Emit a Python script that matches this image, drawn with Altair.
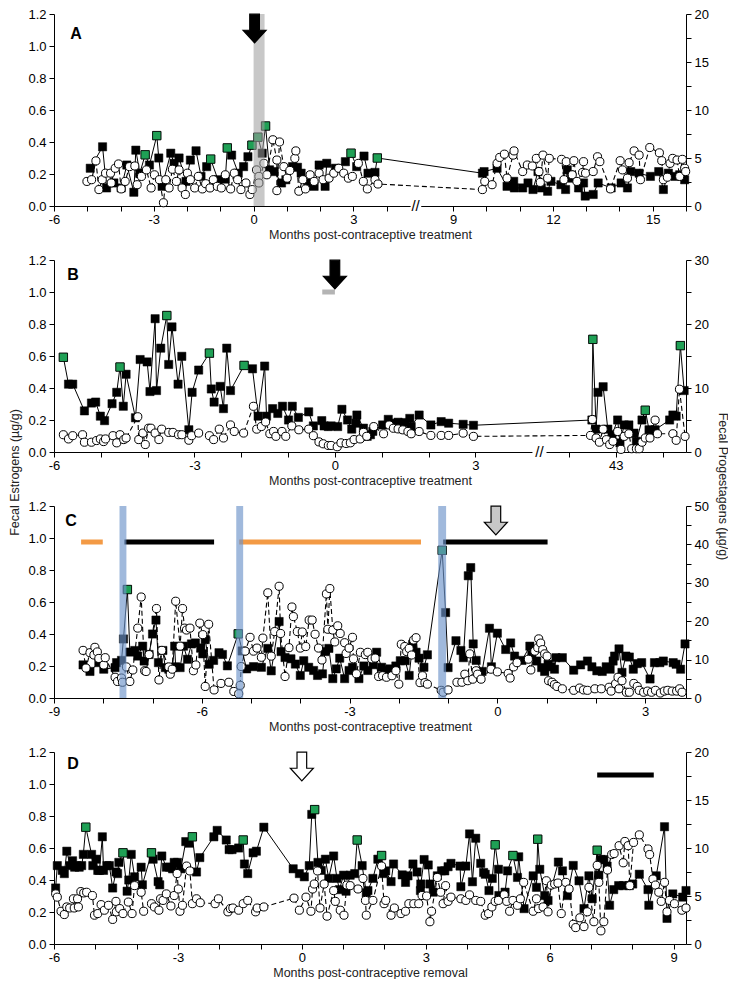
import altair as alt
import pandas as pd

FONT = "Liberation Sans"
W, H = 632, 192
GREEN = "#1fa055"
ARROW = "M -0.42 -1.25 L 0.42 -1.25 L 0.42 0.15 L 1 0.15 L 0 1.25 L -1 0.15 L -0.42 0.15 Z"

# ---------------- Panel A (x in months; squares = estrogens, circles = progestagens) ----------------
A_SQ = [(-4.91,0.236),(-4.54,0.37),(-4.42,0.113),(-4.2,0.144),(-3.98,0.113),(-3.81,0.256),(-3.6,0.086),
        (-3.54,0.349),(-3.42,0.205),(-3.26,0.32),(-3.13,0.256),(-2.91,0.44),(-2.85,0.30),(-2.75,0.123),
        (-2.49,0.33),(-2.39,0.267),(-2.24,0.30),(-2.03,0.154),(-1.9,0.287),(-1.73,0.345),(-1.58,0.185),
        (-1.41,0.246),(-1.29,0.293),(-1.07,0.164),(-0.85,0.168),(-0.79,0.363),(-0.66,0.318),(-0.46,0.205),
        (-0.3,0.246),(-0.17,0.308),(-0.05,0.38),(0.13,0.43),(0.26,0.33),(0.36,0.50),(0.48,0.226),(0.62,0.215),
        (0.84,0.144),(0.97,0.164),(1.17,0.246),(1.32,0.242),(1.43,0.205),(1.63,0.144),(1.82,0.123),(1.97,0.256),
        (2.15,0.123),(2.2,0.267),(2.46,0.236),(2.76,0.277),(2.93,0.33),(3.1,0.246),(3.32,0.312),(3.44,0.205),
        (3.65,0.21),(3.72,0.30),
        (9.88,0.205),(9.93,0.215),(10.32,0.236),(10.62,0.123),(10.82,0.154),(10.84,0.113),(11.09,0.113),
        (11.25,0.144),(11.4,0.103),(11.55,0.215),(11.65,0.113),(11.84,0.092),(11.94,0.154),(12.24,0.133),
        (12.38,0.103),(12.43,0.226),(12.56,0.174),(12.77,0.113),(12.92,0.144),(12.97,0.062),(13.21,0.072),
        (13.36,0.144),(13.75,0.113),(14.05,0.144),(14.24,0.113),(14.34,0.215),(14.59,0.205),(14.93,0.185),
        (15.18,0.215),(15.32,0.103),(15.47,0.205),(15.67,0.185),(15.81,0.195),(15.96,0.164)]
A_GREEN = [(-3.26,0.32),(-2.91,0.44),(-1.29,0.293),(-0.79,0.363),(-0.05,0.38),(0.13,0.43),(0.36,0.50),
           (2.93,0.33),(3.72,0.30)]
A_CI = [(-5.01,2.56),(-4.87,2.74),(-4.74,4.7),(-4.65,1.71),(-4.55,2.74),(-4.45,3.42),(-4.3,3.42),(-4.28,2.4),
        (-4.16,3.93),(-4.06,4.38),(-3.98,1.78),(-3.86,2.56),(-3.73,4.1),(-3.57,4.17),(-3.5,2.22),(-3.37,3.08),
        (-3.22,3.76),(-3.08,1.88),(-2.98,3.25),(-2.83,2.74),(-2.71,0.34),(-2.64,2.74),(-2.54,1.88),(-2.44,3.83),
        (-2.32,2.56),(-2.24,3.76),(-2.15,1.88),(-2.05,1.2),(-1.99,3.42),(-1.9,2.74),(-1.77,1.88),(-1.66,3.08),
        (-1.54,1.78),(-1.44,2.32),(-1.31,1.88),(-1.21,2.74),(-1.09,2.05),(-0.97,1.88),(-0.85,3.25),(-0.69,1.78),
        (-0.58,3.42),(-0.48,2.74),(-0.38,1.71),(-0.23,2.4),(-0.11,1.2),(-0.04,1.71),(0.09,3.76),(0.16,3.08),
        (0.16,2.4),(0.31,4.44),(0.4,3.25),(0.58,6.9),(0.7,4.79),(0.7,1.6),(0.78,6.67),(0.91,4.1),(1.01,2.9),
        (1.09,3.7),(1.24,4.96),(1.27,5.74),(1.36,1.54),(1.48,2.74),(1.56,1.78),(1.7,3.25),(1.82,2.56),(1.97,3.42),
        (2.09,2.74),(2.27,2.9),(2.41,3.42),(2.56,3.93),(2.71,3.42),(2.85,2.9),(2.97,3.08),(3.15,4.44),(3.3,2.56),
        (3.42,1.78),(3.65,2.74),(3.74,2.29),
        (9.88,1.71),(9.95,2.56),(10.17,2.22),(10.32,4.44),(10.4,5.06),(10.54,5.4),(10.62,2.9),(10.8,5.3),
        (10.83,5.74),(11.09,3.59),(11.23,4.27),(11.38,4.17),(11.5,4.96),(11.58,3.59),(11.62,2.46),(11.7,5.3),
        (11.84,2.9),(11.89,4.96),(12.26,4.86),(12.33,2.74),(12.4,4.62),(12.58,3.25),(12.63,4.72),(12.72,2.56),
        (12.89,3.49),(12.92,4.62),(12.98,3.42),(13.21,3.59),(13.34,5.13),(13.41,4.62),(13.73,1.78),(14.02,4.72),
        (14.09,3.76),(14.24,2.9),(14.29,4.51),(14.44,5.74),(14.59,5.3),(14.63,2.74),(14.91,6.09),(15.2,5.54),
        (15.27,4.72),(15.32,2.74),(15.44,3.0),(15.52,4.44),(15.6,4.96),(15.73,4.79),(15.81,3.08),(15.89,4.86),
        (15.96,3.93),(15.99,3.59)]

# ---------------- Panel B ----------------
B_SQ = [(-5.8,0.592),(-5.69,0.424),(-5.6,0.424),(-5.35,0.257),(-5.2,0.306),(-5.11,0.312),(-5.01,0.224),
        (-4.92,0.196),(-4.76,0.302),(-4.66,0.373),(-4.59,0.531),(-4.52,0.286),(-4.46,0.486),(-4.26,0.214),
        (-4.16,0.578),(-4.01,0.563),(-3.95,0.378),(-3.84,0.833),(-3.81,0.384),(-3.72,0.649),(-3.59,0.853),
        (-3.55,0.547),(-3.48,0.782),(-3.35,0.424),(-3.27,0.598),(-3.12,0.139),(-3.05,0.373),(-2.91,0.512),
        (-2.68,0.618),(-2.64,0.394),(-2.58,0.312),(-2.45,0.41),(-2.38,0.271),(-2.31,0.649),(-2.23,0.384),
        (-1.94,0.541),(-1.76,0.52),(-1.64,0.224),(-1.5,0.537),(-1.46,0.224),(-1.33,0.271),(-1.22,0.241),
        (-1.12,0.286),(-0.99,0.2),(-0.91,0.286),(-0.78,0.216),(-0.56,0.251),(-0.46,0.163),(-0.28,0.196),
        (-0.23,0.163),(-0.14,0.159),(-0.08,0.163),(0.06,0.159),(0.15,0.267),(0.27,0.2),(0.36,0.143),(0.45,0.18),
        (0.47,0.231),(0.61,0.149),(0.69,0.098),(0.76,0.108),(0.81,0.129),(1.02,0.169),(1.14,0.204),(1.25,0.18),
        (1.35,0.186),(1.49,0.184),(1.6,0.21),(1.63,0.159),(1.8,0.231),(2.05,0.169),(2.27,0.19),(2.43,0.18),
        (2.74,0.173),(2.96,0.167),
        (42.49,0.2),(42.51,0.704),(42.58,0.143),(42.62,0.373),(42.73,0.408),(42.83,0.143),(42.92,0.108),
        (43.04,0.2),(43.09,0.057),(43.18,0.169),(43.28,0.169),(43.39,0.118),(43.44,0.067),(43.56,0.2),
        (43.63,0.261),(43.71,0.139),(43.84,0.139),(44.15,0.2),(44.22,0.231),(44.29,0.224),(44.38,0.665),
        (44.46,0.384)]
B_GREEN = [(-5.8,0.592),(-4.59,0.531),(-3.59,0.853),(-2.68,0.618),(-1.94,0.541),(42.51,0.704),
           (43.63,0.261),(44.38,0.665)]
B_CI = [(-5.8,2.7),(-5.69,2.04),(-5.6,2.55),(-5.39,2.7),(-5.35,1.53),(-5.2,1.53),(-5.09,1.79),(-5.01,2.04),
        (-4.94,1.63),(-4.9,2.04),(-4.74,2.55),(-4.66,1.43),(-4.59,2.7),(-4.51,1.94),(-4.46,2.19),(-4.21,5.51),
        (-4.19,1.94),(-4.1,2.96),(-4.05,1.17),(-3.98,3.72),(-3.93,3.72),(-3.84,2.96),(-3.76,1.94),(-3.7,3.57),
        (-3.55,3.06),(-3.46,3.06),(-3.34,2.7),(-3.27,2.7),(-3.12,1.84),(-3.06,2.55),(-2.91,2.96),(-2.68,2.55),
        (-2.59,1.94),(-2.47,3.57),(-2.38,2.19),(-2.23,4.23),(-2.15,3.21),(-1.95,2.96),(-1.74,7.14),(-1.67,3.57),
        (-1.57,3.98),(-1.48,4.69),(-1.39,2.86),(-1.31,3.21),(-1.26,2.45),(-1.13,3.21),(-1.05,2.45),(-0.92,4.08),
        (-0.77,3.47),(-0.56,3.57),(-0.46,2.55),(-0.34,1.58),(-0.25,1.28),(-0.14,1.02),(-0.08,1.02),(0.05,0.82),
        (0.13,1.43),(0.24,1.33),(0.33,1.43),(0.41,1.94),(0.54,2.04),(0.61,3.06),(0.68,2.45),(0.83,3.97),
        (1.04,2.85),(1.16,4.22),(1.25,3.71),(1.35,3.61),(1.45,3.46),(1.56,3.2),(1.63,2.85),(1.8,3.2),(2.05,2.59),
        (2.27,2.59),(2.43,2.59),(2.74,2.95),(2.96,2.44),
        (42.46,2.59),(42.5,5.08),(42.58,2.19),(42.65,1.53),(42.73,3.56),(42.8,1.93),(42.87,1.17),(42.94,1.68),
        (43.04,3.2),(43.11,0.41),(43.18,2.44),(43.28,2.85),(43.34,0.51),(43.44,0.51),(43.5,0.51),(43.56,1.53),
        (43.63,2.19),(43.73,2.19),(43.84,4.98),(43.89,2.85),(44.22,2.85),(44.29,1.83),(44.36,9.81),(44.48,2.44)]

# ---------------- Panel C ----------------
C_SQ = [(-8.41,0.207),(-8.27,0.166),(-8.09,0.221),(-7.99,0.18),(-7.76,0.19),(-7.73,0.221),(-7.63,0.235),
        (-7.59,0.369),(-7.51,0.678),(-7.46,0.287),(-7.36,0.297),(-7.3,0.262),(-7.2,0.324),(-7.17,0.231),
        (-7.07,0.272),(-7.0,0.4),(-6.93,0.487),(-6.88,0.221),(-6.79,0.297),(-6.74,0.19),(-6.67,0.18),(-6.6,0.19),
        (-6.55,0.324),(-6.53,0.195),(-6.44,0.19),(-6.37,0.324),(-6.29,0.242),(-6.21,0.338),(-6.13,0.344),
        (-6.02,0.313),(-5.98,0.276),(-5.93,0.365),(-5.85,0.211),(-5.76,0.235),(-5.65,0.283),(-5.58,0.272),
        (-5.48,0.201),(-5.26,0.401),(-5.18,0.294),(-5.09,0.182),(-4.95,0.196),(-4.79,0.192),(-4.66,0.31),
        (-4.59,0.17),(-4.43,0.478),(-4.39,0.29),(-4.31,0.253),(-4.19,0.245),(-4.1,0.212),(-4.0,0.141),
        (-3.93,0.233),(-3.83,0.192),(-3.73,0.172),(-3.65,0.141),(-3.55,0.151),(-3.5,0.29),(-3.42,0.31),
        (-3.34,0.121),(-3.27,0.182),(-3.2,0.249),(-3.1,0.121),(-3.01,0.172),(-2.94,0.192),(-2.81,0.121),
        (-2.71,0.2),(-2.63,0.172),(-2.52,0.208),(-2.45,0.286),(-2.35,0.192),(-2.28,0.172),(-2.18,0.182),
        (-2.06,0.2),(-1.97,0.233),(-1.87,0.233),(-1.79,0.141),(-1.72,0.335),(-1.65,0.286),(-1.59,0.249),
        (-1.49,0.192),(-1.42,0.27),(-1.12,0.923),(-1.05,0.534),(-1.0,0.19),(-0.84,0.358),(-0.74,0.297),
        (-0.69,0.252),(-0.59,0.764),(-0.54,0.815),(-0.49,0.338),(-0.43,0.235),(-0.31,0.166),(-0.16,0.436),
        (-0.12,0.195),(0.0,0.405),(0.17,0.303),(0.27,0.344),(0.35,0.262),(0.5,0.235),(0.66,0.324),(0.7,0.272),
        (0.8,0.231),(0.9,0.19),(0.96,0.166),(1.03,0.211),(1.09,0.195),(1.16,0.18),(1.19,0.252),(1.32,0.252),
        (1.55,0.174),(1.69,0.207),(1.83,0.231),(1.92,0.195),(2.02,0.17),(2.13,0.166),(2.21,0.195),(2.29,0.18),
        (2.35,0.231),(2.38,0.262),(2.47,0.307),(2.53,0.16),(2.61,0.262),(2.68,0.256),(2.76,0.18),(2.84,0.215),
        (2.93,0.221),(3.1,0.119),(3.19,0.221),(3.3,0.221),(3.37,0.231),(3.57,0.221),(3.63,0.211),(3.72,0.18),
        (3.81,0.338)]
C_GREEN = [(-7.51,0.678),(-5.26,0.401),(-1.12,0.923)]
C_CI = [(-8.41,12.4),(-8.35,7.8),(-8.27,11.8),(-8.19,11.2),(-8.17,13.2),(-8.12,12.0),(-8.09,10.3),(-7.99,8.6),
        (-7.96,10.5),(-7.76,5.4),(-7.71,4.3),(-7.63,5.2),(-7.61,4.1),(-7.53,8.1),(-7.46,4.3),(-7.4,7.3),
        (-7.3,18.2),(-7.23,26.3),(-7.16,7.1),(-7.13,6.9),(-7.07,11.3),(-6.92,23.3),(-6.87,4.7),(-6.81,12.4),
        (-6.67,8.1),(-6.64,6.2),(-6.6,7.5),(-6.53,25.2),(-6.44,13.5),(-6.39,23.3),(-6.35,18.2),(-6.31,17.7),
        (-6.24,18.2),(-6.17,7.1),(-6.12,8.6),(-6.04,19.5),(-5.98,16.5),(-5.93,3.0),(-5.86,19.2),(-5.75,2.1),
        (-5.61,3.8),(-5.45,4.1),(-5.35,1.7),(-5.25,1.1),(-5.22,3.3),(-5.2,8.2),(-5.12,12.2),(-5.02,15.8),
        (-4.95,12.2),(-4.88,13.0),(-4.79,10.6),(-4.76,15.6),(-4.66,27.4),(-4.59,10.9),(-4.52,17.3),(-4.43,29.1),
        (-4.4,16.8),(-4.31,5.6),(-4.23,13.1),(-4.17,23.7),(-4.14,21.2),(-4.06,17.3),(-4.0,13.0),(-3.96,17.2),
        (-3.89,13.4),(-3.82,20.3),(-3.76,20.3),(-3.7,16.6),(-3.63,13.0),(-3.56,9.9),(-3.47,27.1),(-3.44,17.9),
        (-3.4,28.5),(-3.34,17.7),(-3.3,14.6),(-3.24,18.8),(-3.19,16.8),(-3.1,14.4),(-3.07,11.6),(-3.01,13.0),
        (-2.94,15.8),(-2.92,10.2),(-2.86,6.3),(-2.78,11.9),(-2.68,11.3),(-2.63,11.9),(-2.55,10.2),(-2.48,10.4),
        (-2.41,5.6),(-2.33,5.8),(-2.25,5.4),(-2.14,5.8),(-2.06,7.1),(-2.0,3.6),(-1.95,14.0),(-1.88,13.4),
        (-1.84,12.1),(-1.79,12.9),(-1.74,11.2),(-1.7,15.1),(-1.65,15.7),(-1.57,4.0),(-1.52,5.8),(-1.47,4.0),
        (-1.42,3.6),(-1.14,2.0),(-1.1,1.5),(-1.0,2.1),(-0.82,4.1),(-0.72,4.1),(-0.66,6.2),(-0.6,4.5),(-0.56,11.5),
        (-0.5,4.9),(-0.43,7.1),(-0.4,6.2),(-0.33,4.9),(-0.13,7.5),(0.0,6.8),(0.22,6.4),(0.26,5.2),(0.33,8.1),
        (0.4,9.2),(0.63,10.1),(0.68,7.3),(0.76,12.2),(0.82,13.1),(0.84,15.4),(0.88,14.3),(0.92,12.6),(0.96,11.5),
        (1.01,10.9),(1.04,4.5),(1.11,4.1),(1.16,3.5),(1.21,3.0),(1.32,2.4),(1.55,2.0),(1.67,2.6),(1.75,2.1),
        (1.83,2.0),(1.98,2.4),(2.11,2.4),(2.27,2.8),(2.31,1.8),(2.4,3.7),(2.45,5.4),(2.47,2.4),(2.53,4.5),
        (2.62,1.5),(2.68,1.5),(2.77,3.8),(2.84,3.0),(2.88,2.0),(2.97,1.5),(3.05,1.8),(3.13,1.5),(3.21,2.0),
        (3.31,1.3),(3.39,1.8),(3.46,2.0),(3.55,1.8),(3.64,1.8),(3.7,2.4),(3.75,1.5)]

# ---------------- Panel D ----------------
D_SQ = [(-5.96,0.35),(-5.92,0.49),(-5.8,0.46),(-5.75,0.44),(-5.69,0.58),(-5.61,0.49),(-5.55,0.52),(-5.5,0.48),
        (-5.45,0.49),(-5.39,0.48),(-5.33,0.49),(-5.29,0.56),(-5.23,0.73),(-5.09,0.56),(-5.06,0.49),(-4.98,0.53),
        (-4.94,0.46),(-4.9,0.46),(-4.83,0.67),(-4.8,0.46),(-4.72,0.49),(-4.66,0.49),(-4.58,0.35),(-4.5,0.45),
        (-4.46,0.44),(-4.43,0.51),(-4.33,0.57),(-4.23,0.33),(-4.19,0.4),(-4.13,0.56),(-4.05,0.42),(-3.89,0.48),
        (-3.86,0.37),(-3.64,0.57),(-3.6,0.53),(-3.48,0.39),(-3.44,0.37),(-3.39,0.55),(-3.28,0.48),(-3.2,0.48),
        (-3.13,0.47),(-3.09,0.51),(-3.01,0.51),(-2.93,0.47),(-2.81,0.64),(-2.73,0.63),(-2.65,0.67),(-2.55,0.45),
        (-2.47,0.54),(-2.13,0.67),(-2.05,0.71),(-1.83,0.65),(-1.76,0.59),(-1.69,0.59),(-1.53,0.6),(-1.42,0.65),
        (-1.39,0.5),(-1.31,0.44),(-1.18,0.57),(-1.1,0.58),(-0.92,0.73),(-0.21,0.47),(-0.06,0.44),(0.06,0.42),
        (0.18,0.49),(0.24,0.81),(0.31,0.84),(0.39,0.51),(0.47,0.46),(0.57,0.53),(0.65,0.41),(0.77,0.55),
        (0.85,0.41),(0.91,0.34),(1.01,0.43),(1.07,0.33),(1.17,0.43),(1.28,0.44),(1.34,0.65),(1.46,0.49),
        (1.56,0.32),(1.6,0.334),(1.72,0.41),(1.84,0.53),(1.93,0.553),(1.98,0.44),(2.03,0.457),(2.16,0.39),
        (2.22,0.5),(2.43,0.432),(2.51,0.385),(2.57,0.426),(2.69,0.5),(2.79,0.45),(2.87,0.334),(2.88,0.375),
        (2.96,0.528),(3.06,0.494),(3.1,0.375),(3.18,0.324),(3.28,0.426),(3.38,0.457),(3.46,0.457),(3.54,0.483),
        (3.61,0.504),(3.83,0.487),(3.85,0.358),(3.97,0.487),(4.06,0.688),(4.13,0.389),(4.21,0.661),(4.33,0.504),
        (4.4,0.447),(4.44,0.436),(4.53,0.334),(4.61,0.41),(4.68,0.62),(4.76,0.467),(4.77,0.303),(4.92,0.324),
        (4.98,0.457),(5.11,0.553),(5.22,0.416),(5.25,0.545),(5.38,0.221),(5.6,0.426),(5.68,0.354),(5.71,0.655),
        (5.76,0.467),(5.88,0.303),(5.96,0.272),(6.21,0.512),(6.31,0.457),(6.43,0.303),(6.57,0.491),(6.71,0.395),
        (6.83,0.221),(6.95,0.426),(7.03,0.283),(7.15,0.586),(7.19,0.43),(7.24,0.528),(7.31,0.528),(7.39,0.487),
        (7.45,0.242),(7.55,0.34),(7.67,0.365),(7.79,0.365),(7.93,0.365),(8.01,0.375),(8.17,0.436),(8.38,0.34),
        (8.4,0.242),(8.58,0.426),(8.78,0.733),(8.84,0.16),(8.98,0.313),(9.22,0.293),(9.3,0.334)]
D_GREEN = [(-5.23,0.73),(-4.33,0.57),(-3.64,0.57),(-2.65,0.67),(-1.42,0.65),(0.31,0.84),(1.34,0.65),
           (1.93,0.553),(4.68,0.62),(5.11,0.553),(5.71,0.655),(7.15,0.586)]
D_CI = [(-5.96,5.22),(-5.92,4.88),(-5.83,3.41),(-5.75,3.07),(-5.69,3.86),(-5.62,3.75),(-5.53,4.71),(-5.51,3.75),
        (-5.43,4.71),(-5.41,3.86),(-5.35,5.46),(-5.28,5.32),(-5.21,5.39),(-5.07,5.05),(-5.02,3.0),(-4.94,3.17),
        (-4.86,4.1),(-4.78,3.52),(-4.68,4.03),(-4.58,2.56),(-4.5,4.44),(-4.49,3.35),(-4.41,3.69),(-4.33,3.17),
        (-4.2,4.37),(-4.11,3.17),(-4.05,6.08),(-3.89,5.39),(-3.83,3.41),(-3.64,4.2),(-3.57,3.86),(-3.46,3.52),
        (-3.42,4.71),(-3.36,4.54),(-3.28,5.22),(-3.17,3.96),(-3.09,5.05),(-3.02,7.34),(-2.99,5.73),(-2.95,3.41),
        (-2.89,4.03),(-2.79,8.12),(-2.71,7.61),(-2.65,4.2),(-2.55,4.71),(-2.46,4.3),(-2.1,4.2),(-2.02,4.71),
        (-1.79,3.35),(-1.73,3.69),(-1.67,3.75),(-1.53,3.52),(-1.42,4.2),(-1.31,4.54),(-1.12,3.35),(-1.08,3.75),
        (-0.92,3.86),(-0.19,4.78),(-0.06,3.52),(0.1,4.88),(0.22,3.41),(0.26,5.73),(0.3,6.25),(0.38,7.61),
        (0.44,3.75),(0.54,6.25),(0.61,2.9),(0.77,5.56),(0.81,4.44),(0.93,3.52),(1.02,3.0),(1.09,6.14),(1.17,6.08),
        (1.36,5.73),(1.48,6.83),(1.54,4.54),(1.56,3.0),(1.72,4.54),(1.93,8.12),(1.99,4.2),(2.03,4.54),(2.16,3.0),
        (2.24,3.75),(2.4,3.17),(2.51,3.41),(2.59,4.2),(2.71,4.2),(2.83,4.2),(2.91,5.05),(3.02,5.0),(3.1,2.32),
        (3.14,3.41),(3.28,6.93),(3.36,5.39),(3.42,4.2),(3.48,6.08),(3.54,4.44),(3.61,4.88),(3.85,4.71),(3.97,4.54),
        (4.06,5.12),(4.21,4.54),(4.33,4.44),(4.44,3.0),(4.52,3.17),(4.6,3.86),(4.68,4.44),(4.76,4.54),(4.9,5.12),
        (4.96,4.44),(5.03,3.41),(5.11,4.54),(5.22,4.03),(5.29,4.71),(5.37,6.42),(5.6,3.41),(5.68,4.71),(5.73,3.69),
        (5.84,3.86),(5.92,6.59),(5.96,3.35),(6.04,6.14),(6.12,6.25),(6.2,6.35),(6.28,3.17),(6.39,6.42),(6.47,5.73),
        (6.57,2.05),(6.63,1.71),(6.73,2.73),(6.83,1.81),(6.91,3.35),(6.95,5.9),(7.07,2.32),(7.15,8.19),(7.19,6.42),
        (7.24,1.37),(7.31,2.32),(7.4,7.71),(7.5,9.32),(7.56,9.42),(7.68,10.24),(7.78,8.46),(7.82,10.68),
        (7.9,10.24),(7.94,6.08),(8.03,10.58),(8.17,11.37),(8.38,9.9),(8.42,9.32),(8.5,6.76),(8.56,6.14),
        (8.64,5.39),(8.7,4.44),(8.78,6.42),(8.84,3.35),(8.9,4.54),(9.02,4.2),(9.2,3.52),(9.3,3.75)]

# annotation data (months)
A_BAND = [(0.0, 0.33)]
A_ARROW = 0.03
B_ARROW = 0.0
B_GRAYBAR = [(-0.27, 0.0, 1.0)]
C_BANDS = [(-7.67, -7.53), (-5.30, -5.16), (-1.20, -1.04)]
C_ORANGE = [(-8.45, -8.01, 0.975), (-5.24, -1.55, 0.975)]
C_BLACK = [(-7.57, -5.75, 0.975), (-1.10, 1.02, 0.975)]
C_ARROW = -0.03
D_ARROW = 0.0
D_BLACK_R = [(7.15, 8.52, 17.6)]


def to_df(points, col, cut=None, off=0):
    rows = []
    for i, (x, y) in enumerate(points):
        d = x - off if (cut is not None and x > cut) else x
        rows.append({"i": i, "d": d, col: y})
    return pd.DataFrame(rows)


def panel(letter, lxy, sq, green, ci, cut, off, xdom, xticks, lab_expr, xtitle,
          rmax, rminor, rmajor, arrow_x, arrow_fill, bands=(), band_color="#9e9e9e", band_op=0.57,
          lbars=(), rbars=(), brk=None, ltitle="", rtitle="", lty=0, rty=0):
    xscale = alt.Scale(domain=xdom, nice=False, zero=False)
    xaxis = alt.Axis(values=xticks, labelExpr=lab_expr, title=xtitle, labelOverlap=False,
                     labelFlush=False, labelPadding=2, titlePadding=2)

    def X():
        return alt.X("d:Q", scale=xscale, axis=xaxis)

    lkw = dict(values=[0, 0.2, 0.4, 0.6, 0.8, 1.0, 1.2], format=".1f", orient="left", labelPadding=3)
    if ltitle:
        lkw.update(title=ltitle, titleX=-33, titleY=lty, titleAngle=270, titleBaseline="bottom",
                   titleAlign="center")
    else:
        lkw.update(title="")
    rvals = []
    v = 0.0
    while v <= rmax + 1e-9:
        rvals.append(round(v, 2))
        v += rminor
    rkw = dict(values=rvals, orient="right", labelPadding=3,
               labelExpr="datum.value %% %d === 0 ? '' + datum.value : ''" % rmajor)
    if rtitle:
        rkw.update(title=rtitle, titleX=29, titleY=rty, titleAngle=90, titleBaseline="bottom",
                   titleAlign="center")
    else:
        rkw.update(title="")

    def YL():
        return alt.Y("v:Q", scale=alt.Scale(domain=[0, 1.2], nice=False), axis=alt.Axis(**lkw))

    def YR():
        return alt.Y("p:Q", scale=alt.Scale(domain=[0, rmax], nice=False), axis=alt.Axis(**rkw))

    sq_df = to_df(sq, "v", cut, off)
    gr_df = to_df(green, "v", cut, off)
    ci_df = to_df(ci, "p", cut, off)

    left = [
        alt.Chart(sq_df).mark_line(color="black", strokeWidth=1).encode(x=X(), y=YL(), order="i:Q"),
        alt.Chart(sq_df).mark_point(shape="square", filled=True, size=68, fill="black", stroke="black",
                                    strokeWidth=0.5, opacity=1).encode(x=X(), y=YL()),
        alt.Chart(gr_df).mark_point(shape="square", filled=True, size=70, fill=GREEN, stroke="black",
                                    strokeWidth=0.8, opacity=1).encode(x=X(), y=YL()),
    ]
    for (x1, x2, yv, col) in lbars:
        left.append(alt.Chart(pd.DataFrame({"d": [x1], "d2": [x2], "v": [yv]}))
                    .mark_rule(color=col, strokeWidth=5, strokeCap="butt")
                    .encode(x=X(), x2=alt.X2("d2:Q"), y=YL()))
    right = [
        alt.Chart(ci_df).mark_line(color="black", strokeWidth=1.1, strokeDash=[5, 3])
        .encode(x=X(), y=YR(), order="i:Q"),
        alt.Chart(ci_df).mark_point(shape="circle", filled=True, size=66, fill="white", stroke="black",
                                    strokeWidth=1, opacity=1).encode(x=X(), y=YR()),
    ]
    for (x1, x2, yv, col) in rbars:
        right.append(alt.Chart(pd.DataFrame({"d": [x1], "d2": [x2], "p": [yv]}))
                     .mark_rule(color=col, strokeWidth=5, strokeCap="butt")
                     .encode(x=X(), x2=alt.X2("d2:Q"), y=YR()))
    over = []
    for (x1, x2) in bands:
        over.append(alt.Chart(pd.DataFrame({"d": [x1], "d2": [x2]}))
                    .mark_rect(color=band_color, opacity=band_op)
                    .encode(x=X(), x2=alt.X2("d2:Q"), y=alt.value(0), y2=alt.value(H)))
    over.append(alt.Chart(pd.DataFrame({"d": [arrow_x]}))
                .mark_point(shape=ARROW, filled=True, fill=arrow_fill, stroke="black", strokeWidth=1.2,
                            size=529, opacity=1)
                .encode(x=X(), y=alt.value(14.5)))
    if brk is not None:
        bx, b1, b2 = brk
        over.append(alt.Chart(pd.DataFrame({"d": [b1], "d2": [b2]})).mark_rect(color="white")
                    .encode(x=X(), x2=alt.X2("d2:Q"), y=alt.value(H - 4), y2=alt.value(H + 4)))
        over.append(alt.Chart(pd.DataFrame({"d": [bx]}))
                    .mark_text(text="//", fontSize=15, font=FONT, align="center", baseline="middle")
                    .encode(x=X(), y=alt.value(H)))
    over.append(alt.Chart(pd.DataFrame({"a": [0]}))
                .mark_text(text=letter, fontSize=16, fontWeight="bold", font=FONT, align="center",
                           baseline="middle")
                .encode(x=alt.value(lxy[0]), y=alt.value(lxy[1])))

    return (alt.layer(alt.layer(*left), alt.layer(*right), alt.layer(*over))
            .resolve_scale(y="independent")
            .properties(width=W, height=H))


TREAT = "Months post-contraceptive treatment"
REMOV = "Months post-contraceptive removal"

pA = panel("A", (22, 20), A_SQ, A_GREEN, A_CI, 6, 3, [-6, 13],
           [-6, -5, -4, -3, -2, -1, 0, 1, 2, 3, 4, 6, 7, 8, 9, 10, 11, 12, 13],
           "datum.value % 3 === 0 ? '' + (datum.value > 5 ? datum.value + 3 : datum.value) : ''",
           TREAT, 20, 2.5, 5, A_ARROW, "black", bands=A_BAND, band_color="#9e9e9e", band_op=0.57,
           brk=(4.87, 4.72, 5.04))
pB = panel("B", (19, 15), B_SQ, B_GREEN, B_CI, 10, 37, [-6, 7.5],
           [-6, -5, -4, -3, -2, -1, 0, 1, 2, 3, 5, 6, 7],
           "datum.value % 3 === 0 ? '' + (datum.value > 4 ? datum.value + 37 : datum.value) : ''",
           TREAT, 30, 5, 10, B_ARROW, "black",
           lbars=[(a, b, c, "#b4b4b4") for (a, b, c) in B_GRAYBAR],
           brk=(4.37, 4.22, 4.52),
           ltitle="Fecal Estrogens (µg/g)", lty=212,
           rtitle="Fecal Progestagens (µg/g)", rty=226)
pC = panel("C", (17, 15), C_SQ, C_GREEN, C_CI, None, 0, [-9, 3.83],
           list(range(-9, 4)),
           "datum.value % 3 === 0 ? '' + datum.value : ''",
           TREAT, 50, 5, 10, C_ARROW, "#c8c8c8", bands=C_BANDS, band_color="#6d94c9", band_op=0.65,
           lbars=[(a, b, c, "#f39a45") for (a, b, c) in C_ORANGE] + [(a, b, c, "black") for (a, b, c) in C_BLACK])
pD = panel("D", (19, 12), D_SQ, D_GREEN, D_CI, None, 0, [-6, 9.3],
           list(range(-6, 10)),
           "datum.value % 3 === 0 ? '' + datum.value : ''",
           REMOV, 20, 2.5, 5, D_ARROW, "white",
           rbars=[(a, b, c, "black") for (a, b, c) in D_BLACK_R])

chart = (alt.vconcat(pA, pB, pC, pD, spacing=54, bounds="flush")
         .properties(padding=0)
         .configure_view(stroke=None)
         .configure_axis(labelFont=FONT, titleFont=FONT, labelFontSize=13, titleFontSize=12.5,
                         titleFontWeight="normal", labelColor="black", titleColor="#222222",
                         tickColor="black", domainColor="black", grid=False, tickSize=5,
                         domainWidth=1, tickWidth=1))

chart.save("out.html", embed_options={"renderer": "svg", "actions": False})
